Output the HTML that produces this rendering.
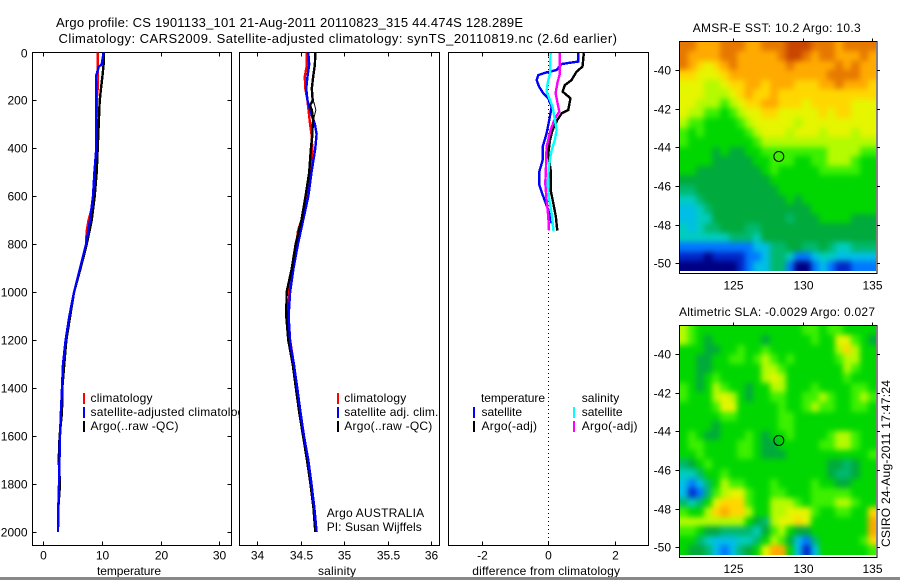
<!DOCTYPE html>
<html lang="en">
<head>
<meta charset="utf-8">
<title>Argo profile chart</title>
<style>
html,body{margin:0;padding:0;background:#fff;}
svg{display:block;}
text{font-family:"Liberation Sans",sans-serif;font-size:12px;fill:#000;}
.crisp{shape-rendering:crispEdges;}
</style>
</head>
<body>
<svg id="chart" xmlns="http://www.w3.org/2000/svg" width="900" height="580" viewBox="0 0 900 580">
  <defs>
    <filter id="map-smooth" filterUnits="userSpaceOnUse" x="620" y="0" width="280" height="580" color-interpolation-filters="sRGB">
      <feGaussianBlur stdDeviation="3"/>
    </filter>
    <clipPath id="clip-map-sst"><rect x="680" y="42" width="196" height="229"/></clipPath>
    <clipPath id="clip-map-sla"><rect x="680" y="326" width="196" height="229"/></clipPath>
  </defs>
  <rect x="0" y="0" width="900" height="580" fill="#fff"/>
  <text x="56" y="27" textLength="467" style="font-size:13px">Argo profile: CS 1901133_101 21-Aug-2011 20110823_315 44.474S 128.289E</text>
  <text x="58.5" y="43" textLength="558.5" style="font-size:13px">Climatology: CARS2009. Satellite-adjusted climatology: synTS_20110819.nc (2.6d earlier)</text>

  <g id="panel-temp"></g>
  <g>
    <rect class="crisp" x="83" y="393" width="2" height="11" fill="#f00"/>
    <text x="90.5" y="402" textLength="62">climatology</text>
    <rect class="crisp" x="83" y="407" width="2" height="11" fill="#00f"/>
    <text x="90.5" y="416" textLength="160">satellite-adjusted climatology</text>
    <rect class="crisp" x="83" y="421" width="2" height="11" fill="#000"/>
    <text x="90.5" y="430" textLength="88">Argo(..raw -QC)</text>
  </g>
  <text x="97" y="575" textLength="64">temperature</text>

  <rect class="crisp" x="239" y="52" width="200" height="493" fill="#fff"/>
  <g id="panel-sal"></g>
  <g>
    <rect class="crisp" x="337" y="393" width="2" height="11" fill="#f00"/>
    <text x="344.3" y="402" textLength="62">climatology</text>
    <rect class="crisp" x="337" y="407" width="2" height="11" fill="#00f"/>
    <text x="344.3" y="416" textLength="94">satellite adj. clim.</text>
    <rect class="crisp" x="337" y="421" width="2" height="11" fill="#000"/>
    <text x="344.3" y="430" textLength="88">Argo(..raw -QC)</text>
  </g>
  <text x="326.7" y="517" textLength="97.5">Argo AUSTRALIA</text>
  <text x="326.7" y="531" textLength="95">PI: Susan Wijffels</text>
  <text x="318" y="575" textLength="38">salinity</text>

  <g id="panel-diff"></g>
  <g>
    <text x="481" y="402" textLength="64">temperature</text>
    <rect class="crisp" x="473" y="407" width="2" height="11" fill="#00f"/>
    <text x="481.5" y="416" textLength="40.5">satellite</text>
    <rect class="crisp" x="473" y="421" width="2" height="11" fill="#000"/>
    <text x="481.5" y="430" textLength="55.5">Argo(-adj)</text>
    <text x="581.7" y="402" textLength="37.5">salinity</text>
    <rect class="crisp" x="573" y="407" width="2" height="11" fill="#0ff"/>
    <text x="581.7" y="416" textLength="40.8">satellite</text>
    <rect class="crisp" x="573" y="421" width="2" height="11" fill="#f0f"/>
    <text x="581.7" y="430" textLength="55.8">Argo(-adj)</text>
  </g>
  <text x="472.3" y="575" textLength="147.7">difference from climatology</text>

  <text x="692.7" y="32" textLength="168">AMSR-E SST: 10.2  Argo: 10.3</text>
  <g id="map-sst"></g>
  <text x="679" y="316" textLength="196">Altimetric SLA: -0.0029 Argo: 0.027</text>
  <g id="map-sla"></g>
  <text transform="translate(890,547) rotate(-90)" x="0" y="0" textLength="167">CSIRO 24-Aug-2011 17:47:24</text>

  <rect class="crisp" x="0" y="577" width="900" height="3" fill="#888"/>
</svg>

<script>
// ---- profile data (depth in dbar, values in native units) ----
const depthTicks = [0,200,400,600,800,1000,1200,1400,1600,1800,2000];
const tempTicks = [0,10,20,30];
const salTicks = [34,34.5,35,35.5,36];
const salTickLabels = ['34','34.5','35','35.5','36'];
const diffTicks = [-2,0,2];

const tempClimDepth = [0,100,150,200,400,600,650,700,745,800,900,1000,1100,1200,1300,1400,1500,1600,1800,1900,2000];
const tempClim = [9.26,9.26,9.26,9.1,9.03,8.47,8.24,7.7,7.4,7.27,6.25,5.23,4.43,3.8,3.35,3.18,3.0,2.84,2.67,2.55,2.5];
const tempSatDepth = [0,50,60,100,200,400,500,600,700,800,900,1000,1100,1200,1300,1400,1500,1600,1800,1900,2000];
const tempSat = [10.28,9.94,9.43,8.98,9.03,9.03,8.7,8.47,7.95,7.27,6.25,5.23,4.43,3.8,3.35,3.18,3.0,2.84,2.67,2.55,2.5];
const tempArgoDepth = [0,50,100,150,200,300,400,500,600,700,800,900,1000,1200,1300,1400,1500,1600,1700,1800,1900,2000];
const tempArgo = [10.28,10.28,10.06,9.83,9.6,9.43,9.26,9.09,8.75,8.24,7.39,6.36,5.23,3.92,3.58,3.24,3.18,2.78,2.62,2.84,2.55,2.5];

const salClimDepth = [0,60,100,150,200,300,350,400,450,500,600,700,745,800,900,1000,1100,1200,1300,1400,1500,1600,1700,1800,1900,2000];
const salClim = [34.57,34.57,34.55,34.555,34.58,34.61,34.63,34.635,34.63,34.615,34.585,34.51,34.47,34.455,34.41,34.37,34.36,34.38,34.424,34.463,34.5,34.54,34.59,34.627,34.66,34.685];
const salSatDepth = [0,50,100,150,200,250,300,340,400,500,600,700,800,900,1000,1100,1200,1250,1300,1400,1500,1600,1700,1800,1900,2000];
const salSat = [34.59,34.6,34.58,34.566,34.58,34.62,34.665,34.685,34.67,34.627,34.59,34.53,34.47,34.42,34.38,34.363,34.38,34.40,34.424,34.463,34.5,34.54,34.59,34.627,34.66,34.685];
const salArgoDepth = [0,50,100,150,200,220,240,280,300,350,400,500,600,700,800,900,1000,1100,1200,1300,1400,1500,1600,1700,1800,1900,2000];
const salArgo = [34.67,34.665,34.646,34.63,34.64,34.61,34.63,34.646,34.64,34.635,34.62,34.6,34.558,34.51,34.444,34.4,34.34,34.337,34.36,34.41,34.447,34.485,34.53,34.575,34.615,34.65,34.67];
const salArgoRawDepth = [195,215,240,265,285];
const salArgoRaw = [34.64,34.66,34.677,34.66,34.646];

const dTempSatDepth = [3,38,48,73,83,94,115,142,170,191,226,281,337,393,448,497,553,601,657,712];
const dTempSat = [0.9,0.9,0.4,0.25,-0.05,-0.3,-0.35,-0.28,-0.15,0,0.1,0.03,-0.05,-0.17,-0.17,-0.27,-0.27,-0.15,0,0.1];
const dTempArgoDepth = [3,59,80,115,136,163,191,240,254,281,323,365,421,490,573,629,685,743];
const dTempArgo = [1.07,1.03,0.85,0.7,0.5,0.43,0.67,0.6,0.4,0.27,0.13,0.05,0,0.07,0.07,0.15,0.23,0.27];
const dSalSatDepth = [3,87,129,163,191,226,281,323,365,407,462,546,615,671,747];
const dSalSat = [0.07,0.05,-0.02,-0.05,0.03,0.13,0.2,0.25,0.2,0.1,0.03,-0.02,0.03,0.1,0.16];
const dSalArgoDepth = [3,87,129,170,212,247,275,323,393,476,546,615,685,743];
const dSalArgo = [0.35,0.35,0.27,0.22,0.28,0.33,0.2,0.07,-0.05,-0.07,-0.09,-0.05,0,0.02];

// ---- map data (colour-level per cell, north to south) ----
const mapLonTicks = [125,130,135];
const mapLatTicks = [-40,-42,-44,-46,-48,-50];
const argoLon = 128.289;
const argoLat = -44.474;
const sstLevels = [
[13,13,12,12,12,13,13,13,12,12,13,13,13,14,14,14,13,13,13,12,13,13,13,13],
[13,12,12,12,12,13,13,12,12,12,12,12,13,14,14,13,12,13,13,12,12,12,13,12],
[13,12,11,10,11,12,13,12,12,12,12,12,12,13,12,12,12,12,12,13,12,13,12,12],
[11,11,10,10,10,11,12,12,12,12,12,12,12,12,12,12,12,12,13,13,13,13,12,12],
[10,10,10,9,9,10,11,11,12,12,11,12,12,12,11,11,11,12,12,13,12,12,12,11],
[10,10,10,9,9,9,10,11,12,11,11,12,11,11,11,11,11,11,11,11,11,11,11,11],
[10,10,9,9,9,8,9,10,11,11,12,12,11,11,11,10,11,11,11,11,11,10,10,10],
[10,9,9,8,8,7,8,9,10,10,11,11,10,10,10,10,10,11,10,11,11,10,10,10],
[9,8,8,7,7,7,7,8,9,10,10,10,10,10,9,10,10,10,10,10,10,10,10,10],
[8,7,8,7,7,7,7,7,8,9,10,10,10,9,10,10,10,9,10,10,10,9,10,10],
[8,7,7,7,7,7,7,7,7,8,9,9,9,9,9,9,9,9,9,9,9,9,9,9],
[7,7,7,7,6,7,6,6,7,7,8,8,8,8,8,8,8,8,9,9,9,9,8,8],
[7,7,7,7,6,6,6,6,6,7,7,8,8,8,7,7,8,8,9,9,9,8,7,7],
[7,7,6,6,6,6,6,6,6,6,7,8,7,7,7,7,7,8,8,8,8,8,7,7],
[6,6,6,6,6,6,6,6,6,6,6,7,7,7,7,7,7,7,7,7,7,7,7,7],
[5,5,6,6,6,6,6,6,6,6,6,6,7,7,7,7,7,7,7,7,7,7,7,7],
[4,4,5,6,6,6,6,6,6,6,6,6,6,7,6,7,7,7,7,7,7,7,7,7],
[3,3,4,5,6,6,6,6,6,6,6,6,6,6,6,6,7,7,7,7,7,7,7,7],
[3,3,4,4,6,6,6,6,6,6,6,6,6,5,6,6,6,7,7,7,7,6,6,6],
[4,3,4,5,5,6,6,6,5,5,6,6,6,6,6,6,6,6,6,6,6,6,6,6],
[4,4,4,4,4,4,5,5,5,4,6,6,6,6,6,6,6,6,6,6,6,6,6,6],
[2,2,2,2,2,2,2,2,2,3,3,5,5,6,6,5,5,6,5,4,4,5,5,5],
[1,1,1,0,1,1,1,1,2,2,3,5,5,4,2,2,3,4,4,3,3,3,3,3],
[0,0,0,0,0,0,0,1,2,3,3,5,5,2,0,0,2,3,2,1,1,2,2,2]
];
const slaLevels = [
[9,8,7,7,7,7,7,7,7,7,7,7,7,7,7,8,8,7,8,8,7,7,7,7],
[9,8,7,6,7,7,7,7,7,7,6,7,7,7,7,7,8,7,7,10,10,8,7,6],
[7,7,7,6,6,7,7,8,7,7,8,7,7,7,7,7,7,7,7,9,11,9,7,7],
[7,7,6,6,7,7,8,8,7,8,9,8,7,8,7,7,7,7,7,8,9,9,7,7],
[7,7,6,6,7,7,7,7,7,7,9,9,8,7,7,7,7,7,7,7,9,8,7,7],
[7,7,6,7,8,7,7,7,7,7,9,10,9,7,7,7,7,7,7,7,8,7,7,7],
[8,7,6,7,9,8,7,7,6,7,7,9,9,7,7,7,8,7,7,7,7,8,8,7],
[8,7,7,7,9,10,9,7,6,7,7,8,8,7,7,8,8,9,8,7,7,8,9,8],
[7,7,7,7,8,10,10,7,7,7,7,7,8,7,7,8,9,8,8,7,7,8,8,7],
[7,7,7,7,7,8,8,7,7,7,7,7,8,8,7,7,7,7,7,7,7,7,7,7],
[7,7,7,7,6,7,7,7,7,7,7,7,8,8,7,7,7,7,7,7,7,7,7,7],
[7,8,7,6,6,7,7,7,8,7,6,7,7,8,7,7,7,7,8,9,9,8,7,7],
[7,8,8,7,7,7,7,8,8,7,6,6,7,7,7,7,7,8,8,9,9,8,7,7],
[7,7,8,7,7,7,7,8,8,7,6,6,6,7,7,7,7,7,7,7,7,7,7,8],
[5,6,7,8,7,7,7,7,7,7,7,7,7,7,7,7,7,7,6,6,5,6,7,7],
[4,4,5,7,7,8,7,7,7,7,7,7,7,7,7,7,7,7,6,5,5,6,7,7],
[3,2,3,5,7,9,8,8,7,7,7,8,7,7,7,7,8,7,7,6,6,7,7,7],
[3,1,2,5,8,9,10,10,8,7,7,8,8,7,7,7,8,8,8,8,8,7,7,7],
[5,4,5,7,10,11,11,11,8,7,7,9,9,9,8,7,8,8,8,9,9,8,7,7],
[8,7,7,9,11,12,11,11,9,7,7,9,9,10,10,10,8,7,7,8,8,7,7,11],
[9,9,9,9,9,9,9,9,7,6,5,9,10,10,11,10,7,7,7,7,7,7,7,12],
[8,8,7,6,6,5,5,5,5,4,6,8,9,7,6,6,7,7,7,7,7,7,7,12],
[7,7,5,4,3,3,3,4,4,5,7,9,8,6,3,2,5,7,7,7,7,7,8,11],
[7,6,6,5,3,2,3,5,6,7,10,12,12,7,3,1,3,7,7,7,7,7,7,8]
];

const levelColors = ['#000082','#0028c8','#0078ff','#00bee6','#00cdbe','#00b96e','#00aa3c','#00d700','#3cf000','#b4fa00','#e6f500','#ffd700','#ffaa00','#e67800','#c84600'];

// ---- axis functions ----
const SVGNS = 'http://www.w3.org/2000/svg';
const yDepth = d => 52.5 + d * 0.2398;
const xTemp = v => 43.3 + v * 5.87;
const xSal = v => 257 + (v - 34) * 87;
const xDiff = v => 548.3 + v * 33.2;
const mapX = lon => 733.3 + (lon - 125) * 13.84;
const mapY = (lat, y40) => y40 + (-40 - lat) * 9.665 * 2;

function make(parent, tag, attrs, name) {
  const el = document.createElementNS(SVGNS, tag);
  for (const k in attrs) el.setAttribute(k, attrs[k]);
  
  
  parent.appendChild(el);
  return el;
}
function line(parent, x1, y1, x2, y2, name) {
  return make(parent, 'line', {x1, y1, x2, y2, stroke: '#000', 'stroke-width': 1, 'shape-rendering': 'crispEdges'}, name);
}
function label(parent, x, y, str, anchor, name) {
  const t = make(parent, 'text', {x, y, 'text-anchor': anchor}, name);
  t.textContent = str;
  return t;
}
function series(parent, xs, ds, xf, color, name, width) {
  const pts = xs.map((v, i) => xf(v).toFixed(1) + ',' + yDepth(ds[i]).toFixed(1)).join(' ');
  return make(parent, 'polyline', {points: pts, fill: 'none', stroke: color, 'stroke-width': width || 2.4, 'shape-rendering': 'crispEdges', 'stroke-linejoin': 'miter'}, name);
}
function frame(parent, x0, x1, y0, y1) {
  make(parent, 'rect', {x: x0, y: y0, width: x1 - x0, height: y1 - y0, fill: 'none', stroke: '#000', 'stroke-width': 1, 'shape-rendering': 'crispEdges'}, 'axes-frame');
}
function xAxis(parent, ticks, labels, xf, y0, y1, name) {
  ticks.forEach((v, i) => {
    const x = Math.round(xf(v)) + 0.5;
    line(parent, x, y0, x, y0 + 4, name + '-tick-top');
    line(parent, x, y1, x, y1 - 4, name + '-tick-bottom');
    label(parent, x, 559.5, labels[i], 'middle', name + '-tick-label');
  });
}

// ---- temperature panel ----
const pT = document.getElementById('panel-temp');
frame(pT, 32.5, 231.5, 52.5, 545.5);
xAxis(pT, tempTicks, tempTicks.map(String), xTemp, 52.5, 545.5, 'temperature-axis');
depthTicks.forEach(d => {
  const y = Math.round(yDepth(d)) + 0.5;
  if (d > 0) line(pT, 32.5, y, 36.5, y, 'depth-tick-left');
  if (d > 0) line(pT, 227.5, y, 231.5, y, 'depth-tick-right');
  label(pT, 27.5, y + 4, String(d), 'end', 'depth-tick-label');
});
series(pT, tempClim, tempClimDepth, xTemp, '#f00', 'temperature-climatology-line');
series(pT, tempArgo, tempArgoDepth, xTemp, '#000', 'temperature-argo-line');
series(pT, tempSat, tempSatDepth, xTemp, '#00f', 'temperature-satellite-line');

// ---- salinity panel ----
const pS = document.getElementById('panel-sal');
frame(pS, 239.5, 439.5, 52.5, 545.5);
xAxis(pS, salTicks, salTickLabels, xSal, 52.5, 545.5, 'salinity-axis');
series(pS, salClim, salClimDepth, xSal, '#f00', 'salinity-climatology-line');
series(pS, salArgo, salArgoDepth, xSal, '#000', 'salinity-argo-line');
series(pS, salSat, salSatDepth, xSal, '#00f', 'salinity-satellite-line');
// Argo sits above the satellite line in the upper water column only
const salArgoUpperCount = salArgoDepth.filter(d => d <= 1000).length;
series(pS, salArgo.slice(0, salArgoUpperCount), salArgoDepth.slice(0, salArgoUpperCount), xSal, '#000', 'salinity-argo-upper-line');
series(pS, salArgoRaw, salArgoRawDepth, xSal, '#000', 'salinity-argo-raw-line', 1);

// ---- difference panel ----
const pD = document.getElementById('panel-diff');
frame(pD, 448.5, 648.5, 52.5, 545.5);
xAxis(pD, diffTicks, diffTicks.map(String), xDiff, 52.5, 545.5, 'difference-axis');
make(pD, 'line', {x1: 548.5, y1: 53, x2: 548.5, y2: 545, stroke: '#000', 'stroke-width': 1, 'stroke-dasharray': '1 3', 'shape-rendering': 'crispEdges'}, 'zero-reference-line');
series(pD, dTempArgo, dTempArgoDepth, xDiff, '#000', 'difference-temp-argo-line');
series(pD, dTempSat, dTempSatDepth, xDiff, '#00f', 'difference-temp-satellite-line');
series(pD, dSalArgo, dSalArgoDepth, xDiff, '#f0f', 'difference-sal-argo-line');
series(pD, dSalSat, dSalSatDepth, xDiff, '#0ff', 'difference-sal-satellite-line');

// ---- maps ----
function drawMap(id, clipId, levels, top, bottom, imgBottom, y40, labelY) {
  const g = document.getElementById(id);
  const left = 679.5, right = 877, imgRight = 876;
  const nr = levels.length, nc = levels[0].length;
  const cw = (imgRight - left) / nc, ch = (imgBottom - top) / nr;
  const clip = make(g, 'g', {'clip-path': 'url(#' + clipId + ')'}, 'map-image-clip');
  const img = make(clip, 'g', {filter: 'url(#map-smooth)'}, 'map-image');
  const pad = 14;
  levels.forEach((row, j) => row.forEach((v, i) => {
    const x0 = Math.round(left + i * cw) - (i === 0 ? pad : 0);
    const x1 = Math.round(left + (i + 1) * cw) + (i === nc - 1 ? pad : 0);
    const y0 = Math.round(top + j * ch) - (j === 0 ? pad : 0);
    const y1 = Math.round(top + (j + 1) * ch) + (j === nr - 1 ? pad : 0);
    make(img, 'rect', {x: x0, y: y0, width: x1 - x0, height: y1 - y0, fill: levelColors[v], 'shape-rendering': 'crispEdges'}, 'map-cell');
  }));
  frame(g, left, right, top, bottom);
  mapLonTicks.forEach(lon => {
    const x = Math.round(mapX(lon)) + 0.5;
    line(g, x, top - 3, x, top, 'map-lon-tick');
    label(g, x, labelY, String(lon), 'middle', 'map-lon-tick-label');
  });
  mapLatTicks.forEach(lat => {
    const y = Math.round(mapY(lat, y40)) + 0.5;
    line(g, left - 4, y, left, y, 'map-lat-tick');
    line(g, right, y, right + 3, y, 'map-lat-tick-right');
    label(g, 671, y + 4, '-' + Math.abs(lat), 'end', 'map-lat-tick-label');
  });
  make(g, 'circle', {cx: mapX(argoLon), cy: mapY(argoLat, y40), r: 5, fill: 'none', stroke: '#000', 'stroke-width': 1}, 'argo-position-marker');
}
drawMap('map-sst', 'clip-map-sst', sstLevels, 41.5, 273.5, 271, 70, 289.5);
drawMap('map-sla', 'clip-map-sla', slaLevels, 325.5, 557.5, 555, 354, 573);
</script>
</body>
</html>
